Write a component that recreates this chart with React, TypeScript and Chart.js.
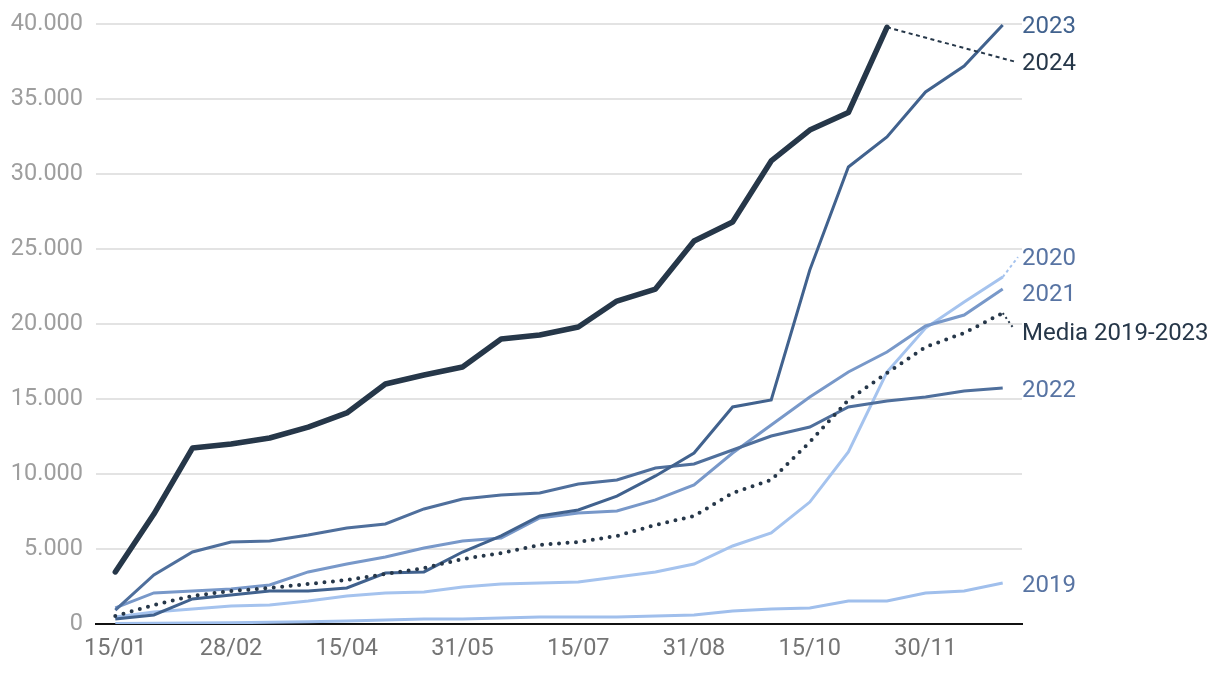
import React, { useEffect, useRef } from "react";
import { Chart, registerables } from "chart.js";

Chart.register(...registerables);

const dates = ["15/01","31/01","15/02","28/02","15/03","31/03","15/04","30/04","15/05","31/05","15/06","30/06","15/07","31/07","15/08","31/08","15/09","30/09","15/10","31/10","15/11","30/11","15/12","31/12"];

const s2024 = [3470, 7330, 11730, 12000, 12400, 13130, 14070, 16000, 16600, 17130, 19000, 19270, 19800, 21530, 22330, 25530, 26800, 30870, 32930, 34100, 39780, null, null, null];
const s2023 = [330, 600, 1670, 1930, 2200, 2200, 2400, 3400, 3470, 4800, 5870, 7200, 7600, 8530, 9870, 11400, 14470, 14930, 23600, 30470, 32470, 35470, 37200, 39930];
const s2022 = [930, 3270, 4800, 5470, 5530, 5930, 6400, 6670, 7670, 8330, 8600, 8730, 9330, 9600, 10400, 10670, 11600, 12530, 13130, 14470, 14870, 15130, 15530, 15730];
const s2021 = [1070, 2070, 2200, 2330, 2600, 3470, 4000, 4470, 5070, 5530, 5730, 7070, 7400, 7530, 8270, 9270, 11400, 13270, 15130, 16800, 18130, 19870, 20600, 22330];
const s2020 = [470, 800, 1000, 1200, 1270, 1530, 1870, 2070, 2130, 2470, 2670, 2730, 2800, 3130, 3470, 4000, 5200, 6070, 8130, 11470, 16800, 19730, 21470, 23130];
const s2019 = [30, 50, 70, 90, 110, 150, 200, 270, 330, 330, 400, 470, 470, 470, 530, 600, 870, 1000, 1070, 1530, 1530, 2070, 2200, 2730];
const sMedia = [530, 1270, 1870, 2200, 2400, 2670, 2930, 3330, 3730, 4330, 4730, 5270, 5470, 5870, 6600, 7200, 8730, 9600, 12130, 14930, 16730, 18470, 19400, 20730];

const yTicks = [0, 5000, 10000, 15000, 20000, 25000, 30000, 35000, 40000];

// right-side labels: text, value at which the label sits, colour
const labelTexts = ["2023", "2024", "2020", "2021", "Media 2019-2023", "2022", "2019"];
const labelValues = [40000, 37470, 24530, 22070, 19530, 15730, 2670];
const labelColors = ["#41628e", "#263749", "#5874a3", "#5874a3", "#263749", "#5874a3", "#5874a3"];

const C2024 = "#263749";
const C2023 = "#41628e";
const C2022 = "#4f6f9c";
const C2021 = "#7898c9";
const C2020 = "#a5c3ee";
const C2019 = "#a0bfec";
const CMEDIA = "#263749";

const FONT = "Roboto";

function fmt(v: number) {
  return String(v).replace(/\B(?=(\d{3})+(?!\d))/g, ".");
}

const sidePlugin = {
  id: "sideLabels",
  afterDatasetsDraw(chart: any) {
    const { ctx, chartArea, scales } = chart;
    const xs = scales.x;
    const ys = scales.y;
    ctx.save();
    // leader 2024
    const last24 = 20;
    ctx.setLineDash([4, 3.5]);
    ctx.lineWidth = 2;
    ctx.strokeStyle = C2024;
    ctx.beginPath();
    ctx.moveTo(xs.getPixelForValue(last24), ys.getPixelForValue(s2024[last24] as number));
    ctx.lineTo(chartArea.right - 6, ys.getPixelForValue(labelValues[1]));
    ctx.stroke();
    // leader 2020
    ctx.setLineDash([3, 3]);
    ctx.strokeStyle = C2020;
    ctx.beginPath();
    ctx.moveTo(xs.getPixelForValue(23), ys.getPixelForValue(s2020[23]));
    ctx.lineTo(chartArea.right - 4, ys.getPixelForValue(labelValues[2]) + 1);
    ctx.stroke();
    // leader media
    ctx.setLineDash([2, 3]);
    ctx.strokeStyle = CMEDIA;
    ctx.beginPath();
    ctx.moveTo(xs.getPixelForValue(23), ys.getPixelForValue(sMedia[23]));
    ctx.lineTo(chartArea.right - 8, ys.getPixelForValue(labelValues[4]) - 2);
    ctx.stroke();
    ctx.setLineDash([]);
    // labels
    ctx.font = `24px ${FONT}`;
    ctx.textAlign = "left";
    ctx.textBaseline = "alphabetic";
    labelTexts.forEach((t, i) => {
      ctx.fillStyle = labelColors[i];
      ctx.fillText(t, chartArea.right, ys.getPixelForValue(labelValues[i]) + 8.5);
    });
    ctx.restore();
  },
};

export default function App() {
  const ref = useRef<HTMLCanvasElement>(null);
  useEffect(() => {
    if (!ref.current) return;
    const common = { pointRadius: 0, pointHoverRadius: 0, tension: 0, fill: false };
    const chart = new Chart(ref.current, {
      type: "line",
      data: {
        labels: dates,
        datasets: [
          { ...common, label: "2024", data: s2024, borderColor: C2024, borderWidth: 5.5, borderCapStyle: "round", borderJoinStyle: "round" },
          { ...common, label: "Media 2019-2023", data: sMedia, borderColor: CMEDIA, borderWidth: 4, borderDash: [0, 8.5], borderCapStyle: "round" },
          { ...common, label: "2023", data: s2023, borderColor: C2023, borderWidth: 3 },
          { ...common, label: "2022", data: s2022, borderColor: C2022, borderWidth: 3 },
          { ...common, label: "2021", data: s2021, borderColor: C2021, borderWidth: 3 },
          { ...common, label: "2020", data: s2020, borderColor: C2020, borderWidth: 3 },
          { ...common, label: "2019", data: s2019, borderColor: C2019, borderWidth: 3 },
        ] as any,
      },
      options: {
        animation: false,
        responsive: false,
        layout: { padding: { top: 24, right: 198, bottom: 0, left: 0 } },
        plugins: { legend: { display: false }, tooltip: { enabled: false } },
        scales: {
          x: {
            offset: true,
            grid: { display: false, drawTicks: false },
            border: { display: true, color: "#111111", width: 2 },
            ticks: {
              autoSkip: false,
              maxRotation: 0,
              padding: 11,
              color: "#757575",
              font: { family: FONT, size: 23.5 },
              callback: (_v: any, i: number) => (i % 3 === 0 ? dates[i] : ""),
            },
            afterFit: (s: any) => { s.height = 50; },
          },
          y: {
            min: 0,
            max: 40000,
            grid: { color: "#e3e3e3", lineWidth: 2, drawTicks: false },
            border: { display: false },
            afterBuildTicks: (s: any) => { s.ticks = yTicks.map((v) => ({ value: v })); },
            ticks: {
              padding: 13,
              color: "#9e9e9e",
              font: { family: FONT, size: 23.5 },
              callback: (v: any) => fmt(Number(v)),
            },
            afterFit: (s: any) => { s.width = 96; s.paddingTop = 0; s.paddingBottom = 0; },
          },
        },
      } as any,
      plugins: [sidePlugin],
    });
    return () => chart.destroy();
  }, []);
  return (
    <canvas
      ref={ref}
      width={1220}
      height={674}
      style={{ position: "absolute", left: 0, top: 0, width: 1220, height: 674 }}
    />
  );
}
